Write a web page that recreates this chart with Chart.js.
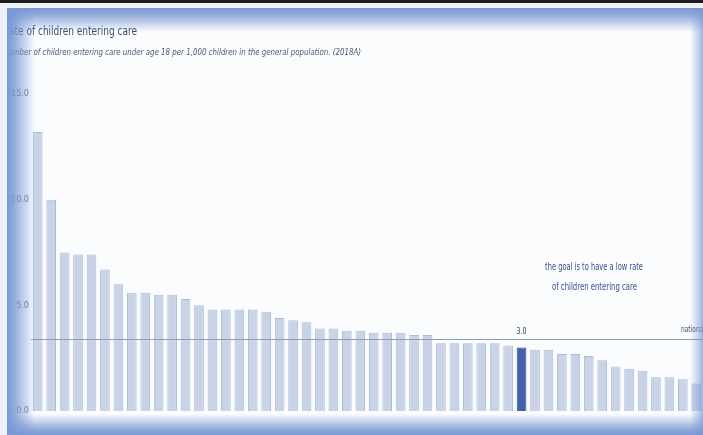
<!DOCTYPE html>
<html>
<head>
<meta charset="utf-8">
<script src="https://cdn.jsdelivr.net/npm/chart.js@4"></script>
<style>
  html, body { margin: 0; padding: 0; overflow: hidden; background: #fbfcfe; }
  #wrap { position: relative; width: 703px; height: 435px; overflow: hidden; }
  #myChart { position: absolute; left: 0; top: 0; }
  .edge { position: absolute; pointer-events: none; }
  #frameTop { left: 0; top: 0; width: 100%; height: 3px; background: #1c1c1c; }
  #outerTop { left: 0; top: 3px; width: 100%; height: 5px; background: #eef1f7; }
  #outerLeft { left: 0; top: 3px; width: 7px; height: 432px; background: #eef1f7; }
  #bandTop { left: 7px; top: 8px; width: 696px; height: 24px;
             background: linear-gradient(to bottom, rgba(122,152,212,1) 0%, rgba(122,152,212,0.85) 25%, rgba(122,152,212,0) 100%); }
  #bandLeft { left: 7px; top: 8px; width: 28px; height: 427px;
              background: linear-gradient(to right, rgba(122,152,212,1) 0%, rgba(122,152,212,0.85) 22%, rgba(122,152,212,0) 100%); }
  #bandBottom { left: 7px; top: 414px; width: 696px; height: 21px;
                background: linear-gradient(to top, rgba(122,152,212,1) 0%, rgba(122,152,212,0.8) 30%, rgba(122,152,212,0) 100%); }
  #bandRight { left: 690px; top: 8px; width: 13px; height: 427px;
               background: linear-gradient(to left, rgba(122,152,212,0.75) 0%, rgba(122,152,212,0.4) 40%, rgba(122,152,212,0) 100%); }
</style>
</head>
<body>
<div id="wrap">
  <canvas id="myChart" width="703" height="435"></canvas>
  <div class="edge" id="bandTop"></div>
  <div class="edge" id="bandLeft"></div>
  <div class="edge" id="bandBottom"></div>
  <div class="edge" id="bandRight"></div>
  <div class="edge" id="outerTop"></div>
  <div class="edge" id="outerLeft"></div>
  <div class="edge" id="frameTop"></div>
</div>
<script>
// rate per 1,000 children, one bar per local authority, sorted high to low
const rates = [
  13.2, 10.0, 7.5, 7.4, 7.4, 6.7, 6.0, 5.6, 5.6, 5.5,
  5.5, 5.3, 5.0, 4.8, 4.8, 4.8, 4.8, 4.7, 4.4, 4.3,
  4.2, 3.9, 3.9, 3.8, 3.8, 3.7, 3.7, 3.7, 3.6, 3.6,
  3.2, 3.2, 3.2, 3.2, 3.2, 3.1, 3.0, 2.9, 2.9, 2.7,
  2.7, 2.6, 2.4, 2.1, 2.0, 1.9, 1.6, 1.6, 1.5, 1.3
];
const authorities = rates.map((r, i) => 'LA ' + (i + 1));
const highlightIndex = 36;
const highlightLabel = '3.0';
const nationalAverage = 3.4;
const yTicks = [0, 5, 10, 15];

const titleText = 'Rate of children entering care';
const subtitleText = 'Number of children entering care under age 18 per 1,000 children in the general population. (2018A)';
const goalLines = ['the goal is to have a low rate', 'of children entering care'];
const nationalText = 'national average';

const narrowFamily = "'Liberation Sans Narrow', 'DejaVu Sans Condensed', 'Liberation Sans', sans-serif";

function drawFitText(ctx, text, x, y, width, font, color)
{
    ctx.save();
    ctx.font = font;
    ctx.fillStyle = color;
    ctx.textBaseline = 'middle';
    ctx.textAlign = 'left';
    let w = ctx.measureText(text).width;
    ctx.translate(x, y);
    ctx.scale(width / w, 1);
    ctx.fillText(text, 0, 0);
    ctx.restore();
}

const annotations = {
    id: 'annotations',
    afterDatasetsDraw(chart) {
        const ctx = chart.ctx;
        const area = chart.chartArea;
        const yScale = chart.scales.y;

        // national average line
        let lineY = Math.round(yScale.getPixelForValue(nationalAverage)) + 0.5;
        ctx.save();
        ctx.strokeStyle = '#8f9cba';
        ctx.lineWidth = 1;
        ctx.beginPath();
        ctx.moveTo(area.left, lineY);
        ctx.lineTo(chart.width, lineY);
        ctx.stroke();
        ctx.restore();

        // value over the highlighted bar
        let bar = chart.getDatasetMeta(0).data[highlightIndex];
        drawFitText(ctx, highlightLabel, bar.x - 5, bar.y - 16, 10, '9px ' + narrowFamily, '#3f4454');

        // national label, runs off the right edge
        drawFitText(ctx, nationalText, 681, lineY - 10, 50, '9px ' + narrowFamily, '#3f4f75');

        // goal note
        drawFitText(ctx, goalLines[0], 545, 267, 98, '10px ' + narrowFamily, '#34528f');
        drawFitText(ctx, goalLines[1], 552, 287, 85, '10px ' + narrowFamily, '#34528f');

        // titles
        drawFitText(ctx, titleText, 3, 32, 134, '12px ' + narrowFamily, '#404b68');
        drawFitText(ctx, subtitleText, 3, 53, 358, 'italic 9px ' + narrowFamily, '#4d5774');
    }
};

function renderChart()
{
    const ctx = document.getElementById('myChart');

    let fills = rates.map((r, i) => i === highlightIndex ? '#4262ad' : '#c9d3e8');
    let borders = rates.map((r, i) => i === highlightIndex ? '#2c4a8a' : '#adbbd8');

    new Chart(ctx, {
        type: 'bar',
        data: {
            labels: authorities,
            datasets: [{
                data: rates,
                backgroundColor: fills,
                borderColor: borders,
                borderWidth: 1,
                barPercentage: 0.72,
                categoryPercentage: 1
            }]
        },
        options: {
            responsive: false,
            animation: false,
            layout: {
                padding: { top: 94, bottom: 24, left: 0, right: 0 }
            },
            plugins: {
                legend: { display: false },
                tooltip: { enabled: false }
            },
            scales: {
                x: { display: false },
                y: {
                    min: 0,
                    max: 15,
                    afterBuildTicks: (scale) => { scale.ticks = yTicks.map(v => ({ value: v })); },
                    afterFit: (scale) => { scale.width = 31; },
                    grid: { display: false, drawTicks: false },
                    border: { display: false },
                    ticks: {
                        padding: 2,
                        color: '#66718c',
                        font: { size: 9, family: narrowFamily },
                        callback: (v) => Number(v).toFixed(1)
                    }
                }
            }
        },
        plugins: [annotations]
    });
}

renderChart();
</script>
</body>
</html>
